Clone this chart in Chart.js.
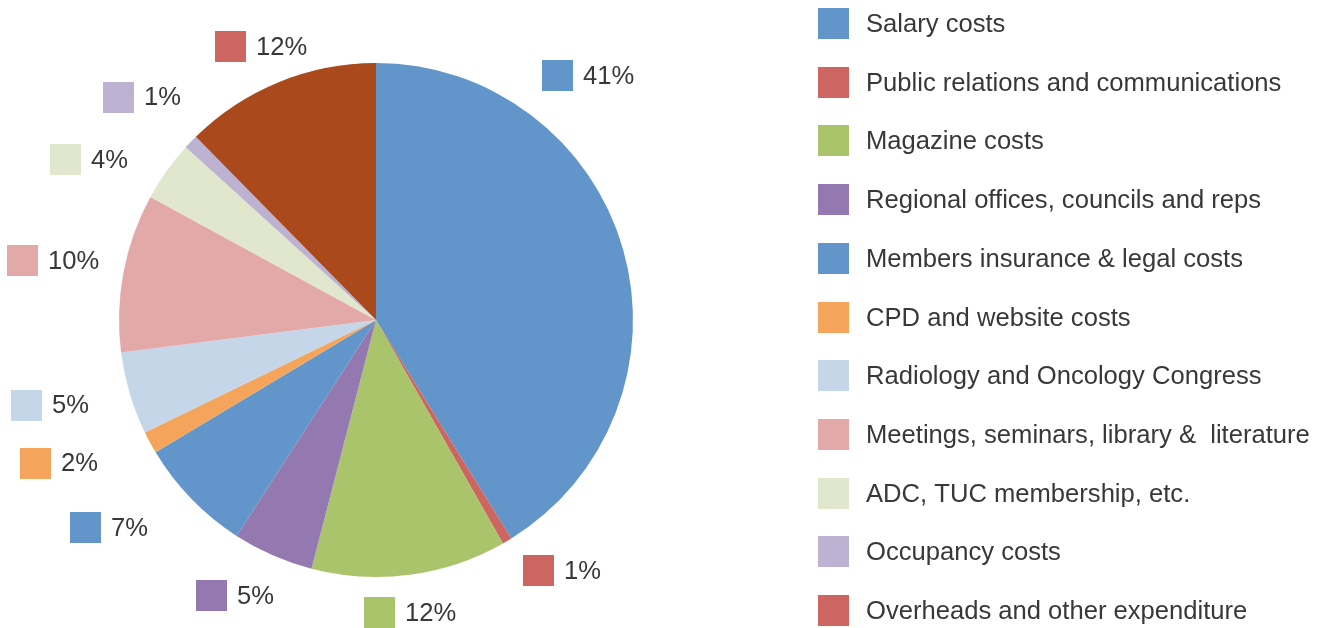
<!DOCTYPE html>
<html>
<head>
<meta charset="utf-8">
<script src="https://cdn.jsdelivr.net/npm/chart.js@4/dist/chart.umd.min.js"></script>
<style>
    body { margin: 0; background: #ffffff; }
    #wrap { width: 1321px; height: 628px; }
</style>
</head>
<body>
<div id="wrap"><canvas id="myChart" width="1321" height="628"></canvas></div>
<script>
/* slice sizes (percent of total), printed labels kept as shown */
const categories = [
    'Salary costs',
    'Public relations and communications',
    'Magazine costs',
    'Regional offices, councils and reps',
    'Members insurance & legal costs',
    'CPD and website costs',
    'Radiology and Oncology Congress',
    'Meetings, seminars, library &  literature',
    'ADC, TUC membership, etc.',
    'Occupancy costs',
    'Overheads and other expenditure'
];
const shares = [41.3, 0.6, 12.3, 5.1, 7.3, 1.4, 5.2, 10, 3.8, 0.9, 12.4];
const shownPct = ['41%', '1%', '12%', '5%', '7%', '2%', '5%', '10%', '4%', '1%', '12%'];

const sliceColors = ['#6295c9', '#cd6660', '#a9c46a', '#9479b0', '#6295c9', '#f4a55b',
    '#c5d6e8', '#e3a9a8', '#e0e7cc', '#bdb2d1', '#aa4a1c'];
const keyColors = ['#6295c9', '#cd6660', '#a9c46a', '#9479b0', '#6295c9', '#f4a55b',
    '#c5d6e8', '#e3a9a8', '#e0e7cc', '#bdb2d1', '#cd6660'];

// where each percentage box sits: angle (deg, clockwise from top) and distance in pie radii
const labelSpots = [[36.6, 1.183], [147, 1.162], [179.3, 1.138], [210.8, 1.249], [234.4, 1.389],
    [247.2, 1.436], [256.3, 1.40], [279.5, 1.393], [297.3, 1.358], [310.9, 1.325], [332, 1.205]];

const FONT = '25.6px "Liberation Sans", Arial, sans-serif';
const INK = '#383838';
const BOX = 31;

const pieLabels = {
    id: 'pieLabels',
    afterDatasetsDraw(chart) {
        const { ctx } = chart;
        const arcs = chart.getDatasetMeta(0).data;
        const cx = arcs[0].x, cy = arcs[0].y, r = arcs[0].outerRadius;
        ctx.save();
        ctx.font = FONT;
        ctx.textAlign = 'left';
        ctx.textBaseline = 'middle';
        labelSpots.forEach(function (spot, i) {
            const a = spot[0] * Math.PI / 180;
            const bx = cx + Math.sin(a) * r * spot[1];
            const by = cy - Math.cos(a) * r * spot[1];
            ctx.fillStyle = keyColors[i];
            ctx.fillRect(Math.round(bx - BOX / 2), Math.round(by - BOX / 2), BOX, BOX);
            ctx.fillStyle = INK;
            ctx.fillText(shownPct[i], Math.round(bx + BOX / 2 + 10), by + 1);
        });
        ctx.restore();
    }
};

const sideKey = {
    id: 'sideKey',
    afterDraw(chart) {
        const { ctx } = chart;
        const left = 818, top = 8, step = 58.7;
        ctx.save();
        ctx.font = FONT;
        ctx.textAlign = 'left';
        ctx.textBaseline = 'middle';
        categories.forEach(function (name, i) {
            const y = Math.round(top + i * step);
            ctx.fillStyle = keyColors[i];
            ctx.fillRect(left, y, BOX, BOX);
            ctx.fillStyle = INK;
            ctx.fillText(name, left + BOX + 17, y + BOX / 2 + 1);
        });
        ctx.restore();
    }
};

var ctx = document.getElementById('myChart');
var myChart = new Chart(ctx, {
    type: 'pie',
    data: {
        labels: categories,
        datasets: [{
            data: shares,
            backgroundColor: sliceColors,
            borderWidth: 0
        }]
    },
    options: {
        responsive: false,
        animation: false,
        devicePixelRatio: 1,
        layout: {
            padding: { left: 119, right: 688, top: 63, bottom: 51 }
        },
        plugins: {
            legend: { display: false },
            tooltip: { enabled: false }
        }
    },
    plugins: [pieLabels, sideKey]
});
</script>
</body>
</html>
